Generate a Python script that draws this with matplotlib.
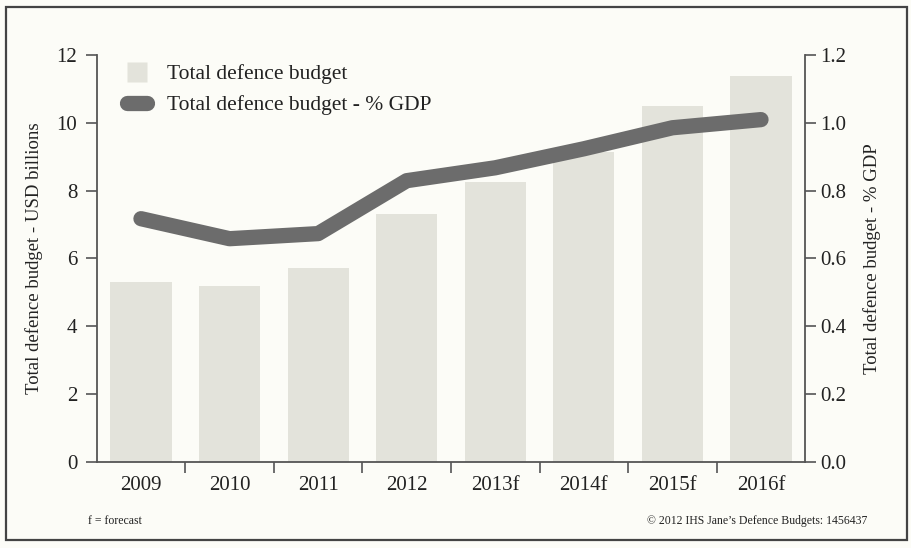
import matplotlib.pyplot as plt
from matplotlib.lines import Line2D
from matplotlib.patches import Rectangle

plt.rcParams['font.family'] = ['Liberation Serif', 'DejaVu Serif']

# data
years = ['2009', '2010', '2011', '2012', '2013f', '2014f', '2015f', '2016f']
budget_usd = [5.3, 5.18, 5.72, 7.3, 8.26, 9.15, 10.5, 11.38]
budget_gdp = [0.717, 0.658, 0.673, 0.829, 0.867, 0.923, 0.985, 1.009]

bar_col = '#e3e3db'
line_col = '#6c6c6c'
txt_col = '#222222'
bg = '#fcfcf7'

fig = plt.figure(figsize=(9.12, 5.48), dpi=100, facecolor=bg)
# outer frame
fig.patches.append(Rectangle((0.007, 0.014), 0.987, 0.974, transform=fig.transFigure,
                             fill=False, edgecolor='#444444', linewidth=1.6))

ax = fig.add_axes([0.106, 0.157, 0.777, 0.743])
ax.set_facecolor('none')
x = list(range(len(years)))
ax.bar(x, budget_usd, width=0.69, color=bar_col, edgecolor='none', zorder=1)
ax.set_xlim(-0.5, 7.5)
ax.set_ylim(0, 12)
ax.set_yticks(range(0, 13, 2))

ax2 = ax.twinx()
ax2.plot(x, budget_gdp, color=line_col, linewidth=11, solid_capstyle='round',
         solid_joinstyle='round', zorder=3)
ax2.set_ylim(0, 1.2)
ax2.set_yticks([0.0, 0.2, 0.4, 0.6, 0.8, 1.0, 1.2])
ax2.set_yticklabels(['%.1f' % v for v in ax2.get_yticks()])

# spines / ticks
for a in (ax, ax2):
    a.spines['top'].set_visible(False)
    for s in a.spines.values():
        s.set_color('#555555')
        s.set_linewidth(1.3)
ax.spines['right'].set_visible(False)
ax2.spines['left'].set_visible(False)
ax2.spines['bottom'].set_visible(False)

# category labels in the middle, tick marks between the bars
ax.set_xticks([i + 0.5 for i in range(7)])
ax.set_xticklabels([])
ax.set_xticks(x, minor=True)
ax.set_xticklabels(years, minor=True)
ax.tick_params(axis='x', which='major', length=8, width=1.2, color='#555555')
ax.tick_params(axis='x', which='minor', length=0, pad=10, labelsize=15, labelcolor=txt_col)
ax.tick_params(axis='y', length=8, width=1.2, color='#555555', labelsize=15,
               labelcolor=txt_col, pad=6)
ax2.tick_params(axis='y', length=8, width=1.2, color='#555555', labelsize=15,
                labelcolor=txt_col, pad=3)

ax.set_ylabel('Total defence budget - USD billions', fontsize=13.5, color=txt_col, labelpad=10)
ax2.set_ylabel('Total defence budget - % GDP', fontsize=13.5, color=txt_col, labelpad=12)

# legend
handles = [Line2D([], [], linestyle='none', marker='s', markersize=15,
                  markerfacecolor=bar_col, markeredgecolor='none'),
           Line2D([], [], color=line_col, linewidth=11, solid_capstyle='round')]
ax.legend(handles, ['Total defence budget', 'Total defence budget - % GDP'],
          loc='upper left', bbox_to_anchor=(0.118, 0.918), bbox_transform=fig.transFigure,
          frameon=False, fontsize=15.5, handlelength=0.95, handletextpad=0.9,
          labelspacing=0.5, labelcolor=txt_col)

# footnotes
fig.text(0.096, 0.05, 'f = forecast', fontsize=8.5, color=txt_col, va='center')
fig.text(0.951, 0.05, '\u00a9 2012 IHS Jane\u2019s Defence Budgets: 1456437', fontsize=8.5,
         color=txt_col, va='center', ha='right')

fig.savefig('out.png', dpi=100, facecolor=bg)
